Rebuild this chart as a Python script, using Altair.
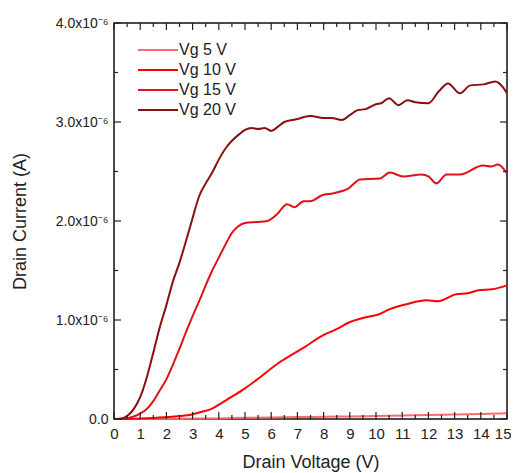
import altair as alt
import pandas as pd

# Drain voltage (V) and drain current (in units of 1e-6 A) for each gate voltage
v_5 = [0, 1, 2, 3, 4, 5, 6, 7, 8, 9, 10, 11, 12, 13, 14, 15]
i_5 = [0, 0.001, 0.002, 0.004, 0.006, 0.012, 0.016, 0.019, 0.022, 0.026, 0.030, 0.035, 0.040, 0.045, 0.050, 0.057]

v_10 = [0, 1.0, 1.93, 2.5, 2.94, 3.3, 3.7, 4.1, 4.47, 5.0, 5.47, 6.23, 6.73, 7.24, 7.87, 8.51,
        9.01, 9.65, 10.03, 10.53, 11.17, 11.92, 12.37, 13.06, 13.5, 13.92, 14.43, 15.0]
i_10 = [0, 0.005, 0.017, 0.03, 0.043, 0.07, 0.10, 0.16, 0.22, 0.31, 0.40, 0.556, 0.64, 0.72, 0.83, 0.91,
        0.98, 1.03, 1.05, 1.11, 1.16, 1.20, 1.19, 1.26, 1.27, 1.30, 1.31, 1.35]

v_15 = [0, 0.25, 0.5, 0.75, 1.0, 1.25, 1.5, 1.75, 2.0, 2.25, 2.5, 2.75, 3.0, 3.25, 3.5, 3.75,
        4.0, 4.33, 4.5, 4.71, 5.0, 5.47, 5.85, 6.23, 6.61, 6.88, 7.24, 7.49, 7.94, 8.38, 8.95,
        9.39, 10.15, 10.53, 11.04, 11.74, 12.0, 12.31, 12.69, 13.2, 14.08, 14.39, 14.65, 15.0]
i_15 = [0, 0.002, 0.008, 0.025, 0.055, 0.10, 0.18, 0.29, 0.40, 0.55, 0.71, 0.88, 1.04, 1.19, 1.35, 1.50,
        1.63, 1.80, 1.88, 1.94, 1.98, 1.99, 2.00, 2.07, 2.17, 2.14, 2.20, 2.20, 2.26, 2.28, 2.33,
        2.42, 2.43, 2.49, 2.45, 2.47, 2.45, 2.38, 2.47, 2.47, 2.56, 2.55, 2.57, 2.48]

v_20 = [0, 0.25, 0.5, 0.75, 1.0, 1.25, 1.5, 1.75, 2.0, 2.25, 2.5, 2.75, 3.0, 3.25, 3.5, 3.75,
        4.0, 4.25, 4.5, 4.75, 5.0, 5.25, 5.5, 5.75, 6.0, 6.25, 6.5, 7.0, 7.25, 7.5, 8.0, 8.3,
        8.7, 9.0, 9.3, 9.6, 10.0, 10.2, 10.5, 10.85, 11.2, 11.5, 12.0, 12.4, 12.75, 13.2, 13.6,
        14.1, 14.55, 14.85, 15.0]
i_20 = [0, 0.003, 0.03, 0.10, 0.22, 0.42, 0.67, 0.93, 1.15, 1.39, 1.58, 1.80, 2.03, 2.25, 2.38, 2.49,
        2.62, 2.73, 2.81, 2.87, 2.92, 2.94, 2.93, 2.94, 2.91, 2.95, 3.00, 3.03, 3.05, 3.06, 3.04, 3.04,
        3.02, 3.07, 3.12, 3.13, 3.18, 3.19, 3.24, 3.17, 3.22, 3.20, 3.19, 3.31, 3.39, 3.29, 3.37,
        3.38, 3.41, 3.35, 3.29]

series_names = ["Vg 5 V", "Vg 10 V", "Vg 15 V", "Vg 20 V"]
series_colors = ["#FF6A6A", "#FF0000", "#E0101C", "#8B0F0F"]

# tick positions of the axes (V and 1e-6 A)
x_major = list(range(16))
x_minor = [k + 0.5 for k in range(15)]
y_major = [0, 1, 2, 3, 4]
y_minor = [0.5, 1.5, 2.5, 3.5]
y_all = [0, 0.5, 1, 1.5, 2, 2.5, 3, 3.5, 4]

rows = []
for name, vs, cs in zip(series_names, [v_5, v_10, v_15, v_20], [i_5, i_10, i_15, i_20]):
    for v, c in zip(vs, cs):
        rows.append({"series": name, "V": v, "I": c})
df = pd.DataFrame(rows)

W, H = 393, 396
MAJOR, MINOR = 7, 4
TICK_COLOR = "#222"

xscale = alt.Scale(domain=[0, 15], nice=False)
yscale = alt.Scale(domain=[0, 4], nice=False)

x_axis = alt.Axis(orient="bottom", values=x_major, ticks=False, domain=False, grid=False,
                  labelFontSize=15, labelPadding=7, labelColor="#222",
                  labelAlign={"condition": {"test": "datum.value === 15", "value": "right"}, "value": "center"},
                  labelOffset={"condition": {"test": "datum.value === 15", "value": 4}, "value": 0},
                  labelBound=False, labelOverlap=False,
                  title="Drain Voltage (V)", titleFontSize=18, titleFontWeight="normal",
                  titlePadding=12, titleColor="#222")
y_axis = alt.Axis(orient="left", values=y_all, ticks=False, domain=False, grid=False,
                  labelFontSize=14, labelPadding=6, labelColor="#222",
                  labelExpr="datum.value === 0 ? '0.0' : (datum.value % 1 === 0 ? format(datum.value, '.1f') + 'x10⁻⁶' : '')",
                  title="Drain Current (A)", titleFontSize=18, titleFontWeight="normal",
                  titlePadding=26, titleColor="#222")

lines = alt.Chart(df).mark_line(strokeWidth=2, interpolate="monotone").encode(
    x=alt.X("V:Q", scale=xscale, axis=x_axis),
    y=alt.Y("I:Q", scale=yscale, axis=y_axis),
    color=alt.Color("series:N", sort=series_names,
                    scale=alt.Scale(domain=series_names, range=series_colors),
                    legend=alt.Legend(orient="none", legendX=36, legendY=19, title=None,
                                      symbolType="M-5,0H5", symbolSize=64, symbolStrokeWidth=2,
                                      labelFontSize=16, labelOffset=13, rowPadding=4, padding=0,
                                      labelColor="#222")),
    order=alt.Order("series:N"),
)


def xticks(vals, at_top, size):
    d = pd.DataFrame({"V": vals})
    y0 = 0 if at_top else H
    y1 = size if at_top else H - size
    return alt.Chart(d).mark_rule(color=TICK_COLOR, strokeWidth=1.2).encode(
        x=alt.X("V:Q", scale=xscale, axis=x_axis),
        y=alt.value(y0), y2=alt.value(y1),
    )


def yticks(vals, at_right, size):
    d = pd.DataFrame({"I": vals})
    x0 = W if at_right else 0
    x1 = W - size if at_right else size
    return alt.Chart(d).mark_rule(color=TICK_COLOR, strokeWidth=1.2).encode(
        y=alt.Y("I:Q", scale=yscale, axis=y_axis),
        x=alt.value(x0), x2=alt.value(x1),
    )


tick_layers = [
    xticks(x_major, False, MAJOR), xticks(x_minor, False, MINOR),
    xticks(x_major, True, MAJOR), xticks(x_minor, True, MINOR),
    yticks(y_major, False, MAJOR), yticks(y_minor, False, MINOR),
    yticks(y_major, True, MAJOR), yticks(y_minor, True, MINOR),
]

chart = alt.layer(lines, *tick_layers).properties(
    width=W, height=H,
    autosize=alt.AutoSizeParams(type="none"),
    padding={"left": 106, "top": 15, "right": 4, "bottom": 58},
).configure(
    font="Liberation Sans",
).configure_view(
    stroke="#111", strokeWidth=1.5,
)

chart.save("out.html", embed_options={"renderer": "svg", "actions": False})
